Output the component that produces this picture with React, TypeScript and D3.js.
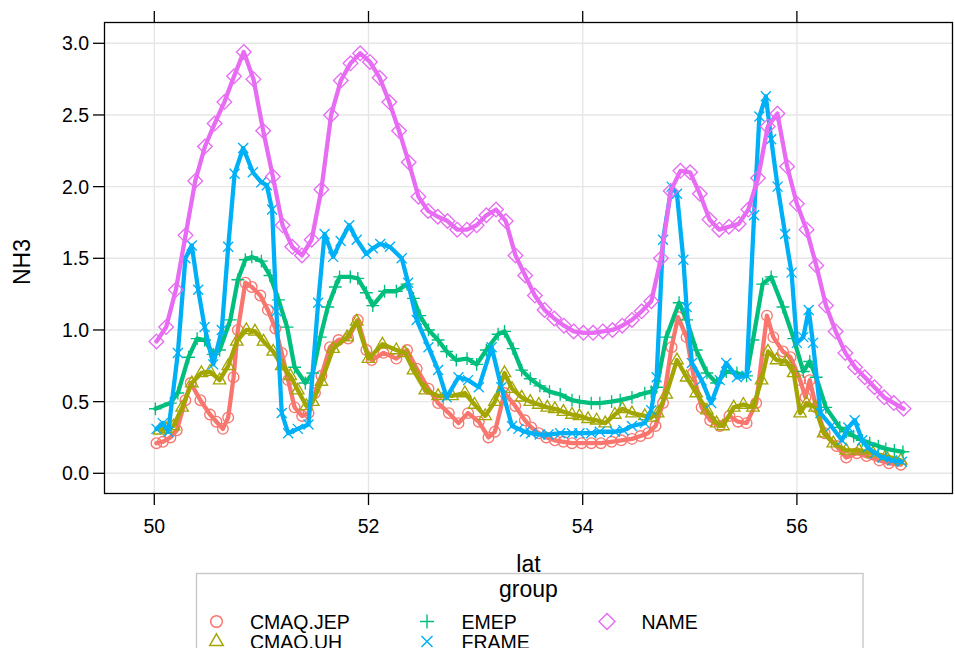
import React from "react";
import * as d3 from "d3";

const W = 955;
const H = 648;
const FONT = "'Liberation Sans', Arial, Helvetica, sans-serif";

const X_TICKS = [50, 52, 54, 56];
const Y_TICKS = [0, 0.5, 1, 1.5, 2, 2.5, 3];
const Y_TICK_LABELS = ["0.0", "0.5", "1.0", "1.5", "2.0", "2.5", "3.0"];
const GROUPS = ["CMAQ.JEP", "CMAQ.UH", "EMEP", "FRAME", "NAME"];
const COLORS = ["#F8766D", "#A3A500", "#00BF7D", "#00B0F6", "#E76BF3"];
const SYMBOLS = ["circle", "triangle", "plus", "cross", "diamond"];

const cmaqJepLat = [50.02, 50.08, 50.15, 50.21, 50.29, 50.34, 50.43, 50.52, 50.58, 50.64, 50.69, 50.74, 50.78, 50.85, 50.91, 50.99, 51.06, 51.13, 51.19, 51.25, 51.31, 51.38, 51.44, 51.5, 51.56, 51.64, 51.72, 51.81, 51.9, 51.98, 52.03, 52.14, 52.26, 52.36, 52.45, 52.56, 52.65, 52.75, 52.84, 52.93, 53.03, 53.12, 53.18, 53.27, 53.37, 53.46, 53.52, 53.59, 53.66, 53.74, 53.82, 53.9, 53.99, 54.08, 54.17, 54.27, 54.36, 54.46, 54.54, 54.61, 54.68, 54.75, 54.83, 54.89, 54.97, 55.03, 55.11, 55.19, 55.28, 55.37, 55.45, 55.53, 55.62, 55.72, 55.78, 55.87, 55.94, 56.03, 56.08, 56.12, 56.18, 56.26, 56.37, 56.46, 56.56, 56.65, 56.77, 56.86, 56.97];
const cmaqJepVal = [0.21, 0.22, 0.25, 0.3, 0.51, 0.63, 0.51, 0.41, 0.36, 0.31, 0.39, 0.67, 1.0, 1.33, 1.3, 1.24, 1.14, 1.01, 0.84, 0.65, 0.46, 0.4, 0.42, 0.56, 0.68, 0.88, 0.93, 0.94, 1.07, 0.86, 0.79, 0.84, 0.8, 0.86, 0.73, 0.59, 0.49, 0.42, 0.35, 0.42, 0.36, 0.25, 0.29, 0.56, 0.47, 0.37, 0.32, 0.28, 0.25, 0.23, 0.22, 0.21, 0.21, 0.21, 0.21, 0.22, 0.23, 0.24, 0.26, 0.28, 0.33, 0.49, 0.88, 1.09, 0.95, 0.7, 0.46, 0.37, 0.33, 0.4, 0.36, 0.35, 0.49, 1.1, 0.95, 0.85, 0.81, 0.65, 0.53, 0.65, 0.46, 0.28, 0.19, 0.11, 0.14, 0.12, 0.09, 0.07, 0.06];

const cmaqUhLat = [50.05, 50.11, 50.18, 50.26, 50.35, 50.44, 50.52, 50.61, 50.69, 50.77, 50.86, 50.94, 51.02, 51.11, 51.19, 51.27, 51.34, 51.42, 51.48, 51.56, 51.67, 51.8, 51.89, 52.0, 52.13, 52.26, 52.34, 52.42, 52.53, 52.65, 52.78, 52.9, 52.99, 53.09, 53.18, 53.27, 53.34, 53.43, 53.51, 53.59, 53.67, 53.74, 53.82, 53.9, 53.97, 54.05, 54.13, 54.21, 54.3, 54.37, 54.46, 54.58, 54.64, 54.7, 54.78, 54.88, 54.97, 55.06, 55.16, 55.25, 55.31, 55.41, 55.5, 55.59, 55.67, 55.73, 55.81, 55.9, 55.97, 56.03, 56.09, 56.17, 56.25, 56.34, 56.46, 56.58, 56.71, 56.83, 56.97];
const cmaqUhVal = [0.3, 0.31, 0.33, 0.46, 0.63, 0.7, 0.71, 0.65, 0.75, 0.92, 1.0, 0.99, 0.92, 0.85, 0.75, 0.68, 0.58, 0.47, 0.5, 0.64, 0.87, 0.95, 1.06, 0.8, 0.9, 0.86, 0.84, 0.72, 0.58, 0.54, 0.54, 0.56, 0.48, 0.4, 0.5, 0.7, 0.59, 0.53, 0.5, 0.48, 0.46, 0.45, 0.43, 0.41, 0.4, 0.38, 0.37, 0.35, 0.41, 0.45, 0.42, 0.4, 0.39, 0.42, 0.55, 0.79, 0.67, 0.56, 0.44, 0.35, 0.33, 0.46, 0.48, 0.46, 0.65, 0.85, 0.79, 0.78, 0.7, 0.42, 0.49, 0.46, 0.28, 0.21, 0.16, 0.16, 0.14, 0.12, 0.09];

const emepLat = [50.01, 50.15, 50.22, 50.32, 50.4, 50.47, 50.55, 50.61, 50.71, 50.78, 50.85, 50.91, 51.0, 51.08, 51.16, 51.24, 51.31, 51.41, 51.48, 51.55, 51.62, 51.69, 51.73, 51.83, 51.9, 51.98, 52.04, 52.15, 52.26, 52.36, 52.42, 52.48, 52.56, 52.65, 52.73, 52.82, 52.92, 53.01, 53.1, 53.21, 53.27, 53.35, 53.43, 53.51, 53.6, 53.69, 53.79, 53.9, 53.97, 54.08, 54.16, 54.27, 54.35, 54.46, 54.58, 54.64, 54.69, 54.78, 54.9, 54.97, 55.06, 55.16, 55.25, 55.34, 55.44, 55.53, 55.59, 55.68, 55.76, 55.87, 55.97, 56.06, 56.12, 56.18, 56.27, 56.4, 56.46, 56.53, 56.61, 56.68, 56.76, 56.83, 56.91, 56.99];
const emepVal = [0.45, 0.49, 0.56, 0.81, 0.94, 0.93, 0.83, 0.86, 1.07, 1.35, 1.49, 1.51, 1.48, 1.38, 1.21, 1.02, 0.74, 0.63, 0.7, 0.95, 1.16, 1.3, 1.37, 1.37, 1.36, 1.26, 1.17, 1.27, 1.27, 1.32, 1.22, 1.1, 1.0, 0.93, 0.85, 0.79, 0.8, 0.76, 0.86, 0.97, 0.99, 0.87, 0.72, 0.66, 0.61, 0.57, 0.55, 0.51, 0.5, 0.49, 0.49, 0.5, 0.51, 0.53, 0.56, 0.57, 0.6, 0.95, 1.19, 1.07, 0.86, 0.7, 0.63, 0.71, 0.7, 0.68, 0.93, 1.32, 1.37, 1.16, 0.94, 0.71, 0.78, 0.67, 0.46, 0.32, 0.29, 0.26, 0.23, 0.21, 0.19, 0.17, 0.16, 0.15];

const frameLat = [50.02, 50.08, 50.13, 50.22, 50.29, 50.35, 50.41, 50.47, 50.55, 50.63, 50.69, 50.75, 50.83, 50.92, 51.0, 51.05, 51.1, 51.14, 51.19, 51.25, 51.34, 51.44, 51.53, 51.59, 51.67, 51.74, 51.82, 51.89, 51.98, 52.04, 52.11, 52.2, 52.31, 52.37, 52.45, 52.56, 52.65, 52.73, 52.84, 52.93, 53.03, 53.15, 53.24, 53.34, 53.4, 53.46, 53.52, 53.6, 53.68, 53.79, 53.9, 53.97, 54.08, 54.16, 54.3, 54.38, 54.46, 54.58, 54.64, 54.69, 54.75, 54.83, 54.88, 54.94, 54.97, 55.02, 55.11, 55.2, 55.28, 55.34, 55.44, 55.53, 55.6, 55.65, 55.71, 55.76, 55.82, 55.89, 55.95, 56.0, 56.06, 56.11, 56.15, 56.22, 56.32, 56.42, 56.48, 56.54, 56.61, 56.66, 56.73, 56.8, 56.89, 56.98];
const frameVal = [0.31, 0.35, 0.29, 0.84, 1.5, 1.59, 1.28, 1.02, 0.76, 1.0, 1.58, 2.09, 2.27, 2.1, 2.03, 2.01, 1.84, 1.13, 0.42, 0.28, 0.31, 0.34, 1.19, 1.67, 1.51, 1.62, 1.73, 1.63, 1.53, 1.57, 1.6, 1.58, 1.5, 1.33, 1.07, 0.88, 0.72, 0.53, 0.67, 0.65, 0.6, 0.88, 0.6, 0.33, 0.31, 0.29, 0.28, 0.27, 0.27, 0.28, 0.28, 0.28, 0.28, 0.29, 0.29, 0.3, 0.33, 0.35, 0.44, 0.67, 1.63, 2.0, 1.95, 1.49, 1.16, 0.77, 0.65, 0.49, 0.65, 0.77, 0.67, 0.68, 1.8, 2.49, 2.63, 2.33, 2.0, 1.67, 1.4, 0.91, 0.95, 1.14, 0.91, 0.42, 0.33, 0.23, 0.32, 0.37, 0.23, 0.18, 0.14, 0.11, 0.09, 0.08];

const nameLatStart = 50.02;
const nameLatStep = 0.0906;
const nameVal = [0.92, 1.02, 1.28, 1.66, 2.04, 2.28, 2.44, 2.59, 2.77, 2.94, 2.75, 2.39, 2.07, 1.73, 1.58, 1.52, 1.63, 1.98, 2.5, 2.74, 2.86, 2.93, 2.87, 2.76, 2.59, 2.39, 2.17, 1.93, 1.83, 1.79, 1.76, 1.7, 1.7, 1.73, 1.8, 1.84, 1.76, 1.52, 1.38, 1.24, 1.14, 1.08, 1.03, 0.99, 0.98, 0.98, 0.99, 1.0, 1.03, 1.07, 1.13, 1.2, 1.5, 1.97, 2.11, 2.1, 1.95, 1.77, 1.7, 1.72, 1.74, 1.84, 2.06, 2.42, 2.51, 2.14, 1.88, 1.7, 1.45, 1.17, 0.99, 0.84, 0.74, 0.67, 0.6, 0.53, 0.49, 0.45];
const nameLat = nameVal.map((_, i) => nameLatStart + i * nameLatStep);

const SERIES_LAT = [cmaqJepLat, cmaqUhLat, emepLat, frameLat, nameLat];
const SERIES_VAL = [cmaqJepVal, cmaqUhVal, emepVal, frameVal, nameVal];

// layout
const BOX = { left: 104.5, top: 22.5, right: 952.5, bottom: 493.5 };

function symbolPath(kind: string): string {
  switch (kind) {
    case "circle": {
      const r = 5.3;
      return `M${-r},0A${r},${r} 0 1,0 ${r},0A${r},${r} 0 1,0 ${-r},0Z`;
    }
    case "triangle":
      return "M0,-7L6.2,3.7L-6.2,3.7Z";
    case "plus":
      return "M-6.4,0H6.4M0,-6.4V6.4";
    case "cross":
      return "M-5,-5L5,5M-5,5L5,-5";
    case "diamond":
      return "M0,-7.3L7.3,0L0,7.3L-7.3,0Z";
    default:
      return "";
  }
}

export default function App() {
  const x = d3.scaleLinear().domain([50, 57]).range([154.3, 904.0]);
  const y = d3.scaleLinear().domain([0, 3]).range([473.3, 43.3]);
  const line = d3
    .line<[number, number]>()
    .x((d) => x(d[0]))
    .y((d) => y(d[1]));

  const series = GROUPS.map((g, gi) => ({
    name: g,
    color: COLORS[gi],
    symbol: SYMBOLS[gi],
    pts: SERIES_LAT[gi].map((lat, i) => [lat, SERIES_VAL[gi][i]] as [number, number]),
  }));

  const legendCols = [
    { sx: 216.5, tx: 250 },
    { sx: 427, tx: 461.5 },
    { sx: 607, tx: 641.5 },
  ];
  const legendRows = [621.5, 641.5];

  return (
    <svg
      width={W}
      height={H}
      viewBox={`0 0 ${W} ${H}`}
      style={{ position: "absolute", left: 0, top: 0, background: "#fff" }}
      fontFamily={FONT}
    >
      <defs>
        <clipPath id="panel">
          <rect x={BOX.left} y={BOX.top} width={BOX.right - BOX.left} height={BOX.bottom - BOX.top} />
        </clipPath>
      </defs>
      <rect x={0} y={0} width={W} height={H} fill="#fff" />

      {/* grid */}
      <g stroke="#E6E6E6" strokeWidth={1.4}>
        {X_TICKS.map((t) => (
          <line key={"gx" + t} x1={x(t)} x2={x(t)} y1={BOX.top} y2={BOX.bottom} />
        ))}
        {Y_TICKS.map((t) => (
          <line key={"gy" + t} x1={BOX.left} x2={BOX.right} y1={y(t)} y2={y(t)} />
        ))}
      </g>

      {/* series */}
      <g clipPath="url(#panel)">
        {series.map((s) => (
          <g key={s.name}>
            <g stroke={s.color} strokeWidth={1.35} fill="none">
              {s.pts.map((p, i) => (
                <path key={i} d={symbolPath(s.symbol)} transform={`translate(${x(p[0])},${y(p[1])})`} />
              ))}
            </g>
            <path
              d={line(s.pts) || ""}
              fill="none"
              stroke={s.color}
              strokeWidth={4.3}
              strokeLinejoin="round"
              strokeLinecap="round"
            />
          </g>
        ))}
      </g>

      {/* box */}
      <rect
        x={BOX.left}
        y={BOX.top}
        width={BOX.right - BOX.left}
        height={BOX.bottom - BOX.top}
        fill="none"
        stroke="#000"
        strokeWidth={1.3}
      />

      {/* ticks */}
      <g stroke="#000" strokeWidth={1.3}>
        {X_TICKS.map((t) => (
          <g key={"tx" + t}>
            <line x1={x(t)} x2={x(t)} y1={BOX.top} y2={BOX.top - 11.5} />
            <line x1={x(t)} x2={x(t)} y1={BOX.bottom} y2={BOX.bottom + 11.5} />
          </g>
        ))}
        {Y_TICKS.map((t) => (
          <line key={"ty" + t} x1={BOX.left} x2={BOX.left - 11.5} y1={y(t)} y2={y(t)} />
        ))}
      </g>

      {/* tick labels */}
      <g fontSize={19.5} fill="#000">
        {X_TICKS.map((t) => (
          <text key={"lx" + t} x={x(t)} y={533} textAnchor="middle">
            {String(t)}
          </text>
        ))}
        {Y_TICKS.map((t, i) => (
          <text key={"ly" + t} x={89} y={y(t)} textAnchor="end" dominantBaseline="central">
            {Y_TICK_LABELS[i]}
          </text>
        ))}
      </g>

      {/* axis labels */}
      <text x={(BOX.left + BOX.right) / 2} y={572} textAnchor="middle" fontSize={23}>
        lat
      </text>
      <text
        transform={`translate(30,262) rotate(-90)`}
        textAnchor="middle"
        fontSize={23}
      >
        NH3
      </text>

      {/* legend */}
      <rect x={196.5} y={573.5} width={666.5} height={90} fill="#fff" stroke="#C8C8C8" strokeWidth={1.4} />
      <text x={(BOX.left + BOX.right) / 2} y={597} textAnchor="middle" fontSize={23}>
        group
      </text>
      {GROUPS.map((g, gi) => {
        const col = legendCols[Math.floor(gi / 2)];
        const row = legendRows[gi % 2];
        return (
          <g key={"lg" + g}>
            <path
              d={symbolPath(SYMBOLS[gi])}
              transform={`translate(${col.sx},${row}) scale(1.1)`}
              fill="none"
              stroke={COLORS[gi]}
              strokeWidth={1.3}
            />
            <text x={col.tx} y={row} dominantBaseline="central" fontSize={19.5}>
              {g}
            </text>
          </g>
        );
      })}
    </svg>
  );
}
